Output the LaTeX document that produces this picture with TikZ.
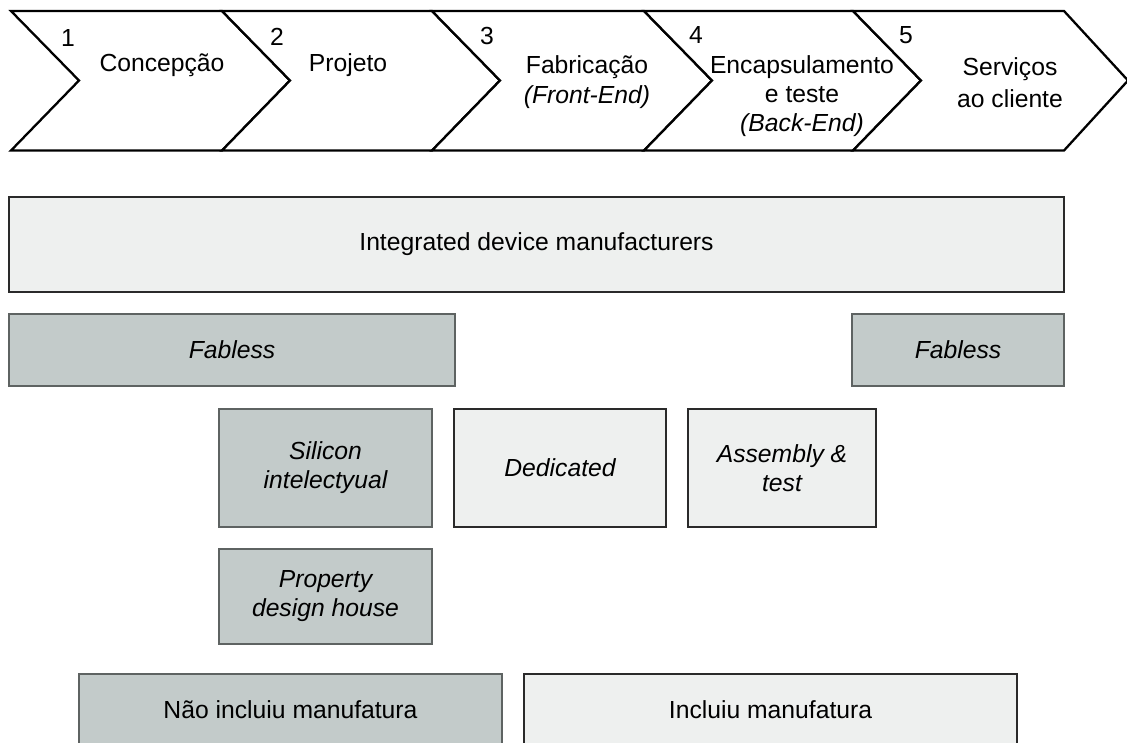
\documentclass[tikz,border=0pt]{standalone}
\usepackage{fontspec}
\setmainfont{Liberation Sans}
\definecolor{dkfill}{HTML}{C3CBCA}
\definecolor{dkline}{HTML}{5E6362}
\definecolor{ltfill}{HTML}{EEF0EF}
\definecolor{ltline}{HTML}{2A2A2A}
\begin{document}
\begin{tikzpicture}[x=1pt,y=-1pt,
  txt/.style={font=\fontsize{24.7}{30}\selectfont, inner sep=0pt, align=center},
  itl/.style={font=\fontsize{24.7}{29}\selectfont\itshape},
  chev/.style={draw=black, line width=2.3pt, fill=white},
  darkbox/.style={txt, draw=dkline, fill=dkfill, line width=2pt},
  lightbox/.style={txt, draw=ltline, fill=ltfill, line width=2pt}
]
\clip (0,0) rectangle (1127,742);
\fill[white] (0,0) rectangle (1127,742);

% chevrons
\draw[chev] (11,11) -- (222,11) -- (290,80.5) -- (222,150.5) -- (11,150.5) -- (79,80.5) -- cycle;
\draw[chev] (222,11) -- (432,11) -- (500,80.5) -- (432,150.5) -- (222,150.5) -- (290,80.5) -- cycle;
\draw[chev] (432,11) -- (644,11) -- (712,80.5) -- (644,150.5) -- (432,150.5) -- (500,80.5) -- cycle;
\draw[chev] (644,11) -- (853,11) -- (921,80.5) -- (853,150.5) -- (644,150.5) -- (712,80.5) -- cycle;
\draw[chev] (853,11) -- (1064,11) -- (1128,80.5) -- (1064,150.5) -- (853,150.5) -- (921,80.5) -- cycle;

\node[txt] (n1) at (68,38) {1};
\node[txt] (n2) at (277,37) {2};
\node[txt] (n3) at (487,36) {3};
\node[txt] (n4) at (696,35) {4};
\node[txt] (n5) at (906,35) {5};

\node[txt] (c1) at (162,65) {Concepção};
\node[txt] (c2) at (348,65) {Projeto};
\node[txt] (c3) at (587,82) {Fabricação\\\textit{(Front-End)}};
\node[txt, font=\fontsize{24.7}{29}\selectfont] (c4) at (802,96) {Encapsulamento\\e teste\\\textit{(Back-End)}};
\node[txt, font=\fontsize{24.7}{32}\selectfont] (c5) at (1010,83) {Serviços\\ao cliente};

% boxes
\node[lightbox, minimum width=1055, minimum height=95] (idm) at (536.5,244.5) {Integrated device manufacturers};
\node[darkbox, itl, minimum width=446, minimum height=72] (fabl) at (232,350) {Fabless};
\node[darkbox, itl, minimum width=212, minimum height=72] (fabr) at (958,350) {Fabless};
\node[darkbox, itl, minimum width=213, minimum height=118] (sil) at (325.5,468) {Silicon\\intelectyual};
\node[lightbox, itl, minimum width=212, minimum height=118] (ded) at (560,468) {Dedicated};
\node[lightbox, itl, minimum width=188, minimum height=118] (asm) at (782,468) {Assembly \&\\test};
\node[darkbox, itl, minimum width=213, minimum height=95] (prop) at (325.5,596.5) {Property\\design house};
\node[darkbox, minimum width=423, minimum height=72] (nao) at (290.5,710) {Não incluiu manufatura};
\node[lightbox, minimum width=493, minimum height=72] (inc) at (770.5,710) {Incluiu manufatura};
\end{tikzpicture}
\end{document}
